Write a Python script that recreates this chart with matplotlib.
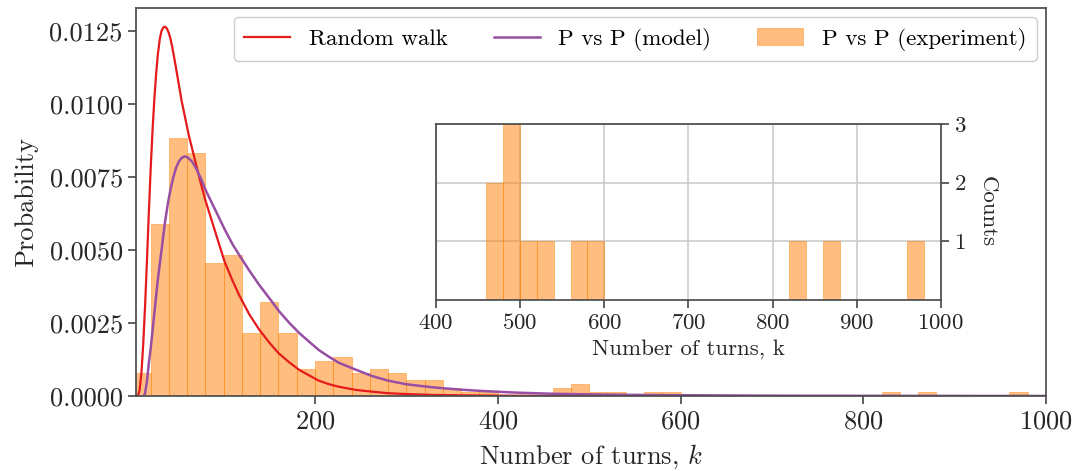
import matplotlib.pyplot as plt
import numpy as np

plt.rcParams['font.family'] = 'cmr10'
plt.rcParams['mathtext.fontset'] = 'cm'
plt.rcParams['axes.formatter.use_mathtext'] = True
plt.rcParams['axes.unicode_minus'] = False

# histogram of game lengths, 20-turn bins from 0 to 1000
bin_edges = np.arange(0, 1001, 20)
turn_counts = [6, 44, 66, 62, 34, 36, 16, 24, 16, 7,
               9, 10, 6, 7, 6, 4, 4, 2, 1, 1,
               0, 0, 0, 2, 3, 1, 1, 0, 1, 1,
               0, 0, 0, 0, 0, 0, 0, 0, 0, 0,
               0, 1, 0, 1, 0, 0, 0, 0, 1, 0]

# random walk distribution
rw_k = [6, 8, 10, 12, 14, 16, 18, 20, 22, 24, 26, 28, 30, 32, 34, 36, 38,
        40, 42, 44, 46, 48, 51, 54, 58, 62, 66, 70, 74, 80, 87, 94, 101,
        109, 117, 128, 139, 150, 160, 172, 183, 194, 204, 215, 226, 245,
        263, 280, 300, 330, 380, 450, 600, 1000]
rw_p = [0.0, 0.0002, 0.0008, 0.0018, 0.0031, 0.0046, 0.0062, 0.0077, 0.0090,
        0.0101, 0.0110, 0.0117, 0.0122, 0.0125, 0.01262, 0.01264, 0.01257,
        0.01242, 0.0122, 0.0119, 0.01155, 0.0112, 0.01065, 0.0101, 0.0095,
        0.0089, 0.0084, 0.0079, 0.0074, 0.0067, 0.0060, 0.0053, 0.0046,
        0.0040, 0.00345, 0.0028, 0.00227, 0.00183, 0.00147, 0.00115, 0.00089,
        0.0007, 0.00053, 0.00041, 0.00032, 0.00021, 0.00015, 0.0001, 0.00007,
        0.00004, 0.00002, 0.00001, 0.0, 0.0]

# model for P vs P games
model_k = [12.6, 14, 16, 18, 20, 22, 24, 26, 28, 30, 32, 34, 36, 39, 42, 45,
           48, 51, 54, 57, 60, 63, 66, 70, 75, 81, 88, 95, 102, 110, 117,
           128, 139, 150, 161, 172, 183, 194, 204, 215, 226, 245, 263, 280,
           299, 320, 336, 360, 380, 420, 460, 520, 600, 700, 850, 1000]
model_p = [0.0, 0.0001, 0.0005, 0.0011, 0.0016, 0.0022, 0.0028, 0.0034,
           0.0040, 0.0045, 0.0050, 0.0055, 0.0060, 0.0066, 0.0071, 0.0075,
           0.00782, 0.00803, 0.00815, 0.0082, 0.00818, 0.0081, 0.0080,
           0.00778, 0.00745, 0.0070, 0.00655, 0.0061, 0.00565, 0.00518,
           0.00483, 0.0043, 0.0038, 0.00335, 0.00289, 0.0025, 0.00215,
           0.00185, 0.00158, 0.00135, 0.00114, 0.0009, 0.00068, 0.00053,
           0.00041, 0.00033, 0.00028, 0.00022, 0.00018, 0.00012, 0.00008,
           0.00005, 0.00003, 0.000015, 0.000008, 0.000005]

spine_col = '0.3'
bar_col = '#ff7f00'

fig = plt.figure(figsize=(10.79, 4.71), dpi=100)
ax = fig.add_axes([0.126, 0.159, 0.8434, 0.824])

centers = bin_edges[:-1] + 10
ax.plot(rw_k, rw_p, color='#e41a1c', lw=1.6, label='Random walk')
ax.plot(model_k, model_p, color='#984ea3', lw=1.8, label='P vs P (model)')
ax.hist(centers, bins=bin_edges, weights=turn_counts, density=True,
        color=bar_col, alpha=0.5, edgecolor=bar_col, linewidth=0.6,
        label='P vs P (experiment)')

ax.set_xlim(4, 1000)
ax.set_ylim(0, 0.01328)
ax.set_xticks([200, 400, 600, 800, 1000])
ax.set_yticks([0, 0.0025, 0.005, 0.0075, 0.01, 0.0125])
ax.set_yticklabels(['%.4f' % v for v in ax.get_yticks()])
ax.set_xlabel('Number of turns, $k$', fontsize=19, color='0.15', labelpad=7)
ax.set_ylabel('Probability', fontsize=19, color='0.15', labelpad=8)
ax.tick_params(labelsize=19, direction='out', length=6, width=1.25,
               color=spine_col, labelcolor='0.15')
for s in ax.spines.values():
    s.set_color(spine_col)
    s.set_linewidth(1.25)

ax.legend(loc='upper right', ncol=3, fontsize=16.6, fancybox=True,
          edgecolor='0.8', framealpha=1, borderaxespad=0.4,
          borderpad=0.45)

# inset: raw counts of the long games
axin = fig.add_axes([0.404, 0.363, 0.468, 0.374])
axin.hist(centers[20:], bins=bin_edges[20:], weights=turn_counts[20:],
          color=bar_col, alpha=0.5, edgecolor=bar_col, linewidth=0.6)
axin.set_xlim(400, 1000)
axin.set_ylim(0, 3)
axin.set_xticks(range(400, 1001, 100))
axin.set_yticks([1, 2, 3])
axin.yaxis.tick_right()
axin.yaxis.set_label_position('right')
axin.set_axisbelow(True)
axin.grid(True, color='0.8', lw=1.2)
axin.set_xlabel('Number of turns, k', fontsize=16.5, color='0.15')
axin.set_ylabel('Counts', fontsize=16.5, color='0.15', rotation=270,
                labelpad=22)
axin.tick_params(labelsize=16.5, direction='out', length=6, width=1.25,
                 color=spine_col, labelcolor='0.15')
for s in axin.spines.values():
    s.set_color(spine_col)
    s.set_linewidth(1.25)

fig.savefig('out.png', dpi=100)
